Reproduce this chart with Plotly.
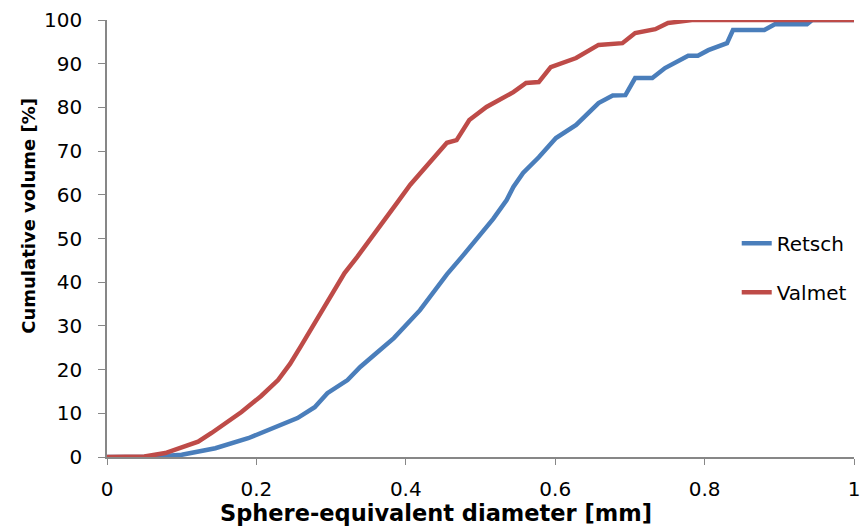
import plotly.graph_objects as go

# Retsch (blue)
retsch_x = [0.0, 0.056, 0.1, 0.145, 0.189, 0.233, 0.255, 0.278, 0.295, 0.322, 0.339, 0.36, 0.384,
            0.419, 0.437, 0.455, 0.475, 0.495, 0.517, 0.535, 0.544, 0.557, 0.578, 0.601, 0.628, 0.658,
            0.677, 0.694, 0.707, 0.73, 0.747, 0.778, 0.791, 0.805, 0.823, 0.83, 0.838,
            0.88, 0.894, 0.937, 0.944, 1.0]
retsch_y = [0.0, 0.0, 0.5, 2.0, 4.3, 7.2, 8.9, 11.4, 14.6, 17.6, 20.6, 23.7, 27.2,
            33.6, 37.8, 41.8, 45.8, 50.0, 54.5, 58.8, 61.8, 65.0, 68.6, 73.0, 76.0, 81.0,
            82.7, 82.8, 86.7, 86.7, 89.0, 91.8, 91.8, 93.1, 94.3, 94.7, 97.7,
            97.7, 99.0, 99.0, 100.0, 100.0]

# Valmet (red)
valmet_x = [0.0, 0.05, 0.078, 0.096, 0.122, 0.14, 0.166, 0.18, 0.198, 0.206, 0.229, 0.245, 0.259,
            0.275, 0.291, 0.305, 0.318, 0.335, 0.362, 0.388, 0.406, 0.432, 0.455, 0.468, 0.485, 0.508,
            0.544, 0.561, 0.578, 0.594, 0.61, 0.628, 0.658, 0.69, 0.707, 0.734, 0.751,
            0.783, 1.0]
valmet_y = [0.0, 0.1, 0.9, 2.0, 3.5, 5.5, 8.5, 10.3, 12.8, 13.9, 17.6, 21.3, 25.2,
            29.8, 34.3, 38.3, 42.1, 45.8, 51.9, 58.1, 62.3, 67.3, 71.9, 72.5, 77.1, 80.1,
            83.5, 85.6, 85.8, 89.2, 90.2, 91.3, 94.3, 94.7, 97.0, 97.9, 99.3,
            100.0, 100.0]

x_ticks = [0, 0.2, 0.4, 0.6, 0.8, 1]
x_tick_labels = ["0", "0.2", "0.4", "0.6", "0.8", "1"]
y_ticks = list(range(0, 101, 10))

x_title = "Sphere-equivalent diameter [mm]"
y_title = "Cumulative volume [%]"

FONT = "'DejaVu Sans', sans-serif"
AXIS_GRAY = "#878787"

fig = go.Figure()
fig.add_trace(go.Scatter(x=retsch_x, y=retsch_y, mode="lines", name="Retsch",
                         legendgroup="a",
                         line=dict(color="#4A7EBB", width=4.5), cliponaxis=False))
fig.add_trace(go.Scatter(x=valmet_x, y=valmet_y, mode="lines", name="Valmet",
                         legendgroup="b",
                         line=dict(color="#BE4B48", width=4.5), cliponaxis=False))

fig.update_layout(
    width=867, height=528,
    margin=dict(l=107, r=7, t=20, b=71),
    plot_bgcolor="white", paper_bgcolor="white",
    font=dict(family=FONT, size=20, color="black"),
    showlegend=True,
    legend=dict(x=0.843, y=0.534, xanchor="left", yanchor="top",
                bgcolor="rgba(0,0,0,0)", font=dict(size=20),
                tracegroupgap=20, itemwidth=30),
    xaxis=dict(range=[0, 1], tickvals=x_ticks, ticktext=x_tick_labels,
               showgrid=False, zeroline=False, showline=True, linecolor=AXIS_GRAY,
               linewidth=1.5, ticks="outside", ticklen=6, tickcolor=AXIS_GRAY,
               tickfont=dict(size=20), ticklabelstandoff=7),
    yaxis=dict(range=[0, 100], tickvals=y_ticks,
               showgrid=False, zeroline=False, showline=True, linecolor=AXIS_GRAY,
               linewidth=1.5, ticks="outside", ticklen=7, tickcolor=AXIS_GRAY,
               tickfont=dict(size=20), ticklabelstandoff=12),
    annotations=[
        dict(text="<b>" + x_title + "</b>", xref="paper", yref="paper",
             x=0.441, y=-0.128, xanchor="center", yanchor="middle",
             showarrow=False, font=dict(size=22.5)),
        dict(text="<b>" + y_title + "</b>", xref="paper", yref="paper",
             x=-0.105, y=0.551, xanchor="center", yanchor="middle",
             textangle=-90, showarrow=False, font=dict(size=18)),
    ],
)

fig.write_html("out.html")
